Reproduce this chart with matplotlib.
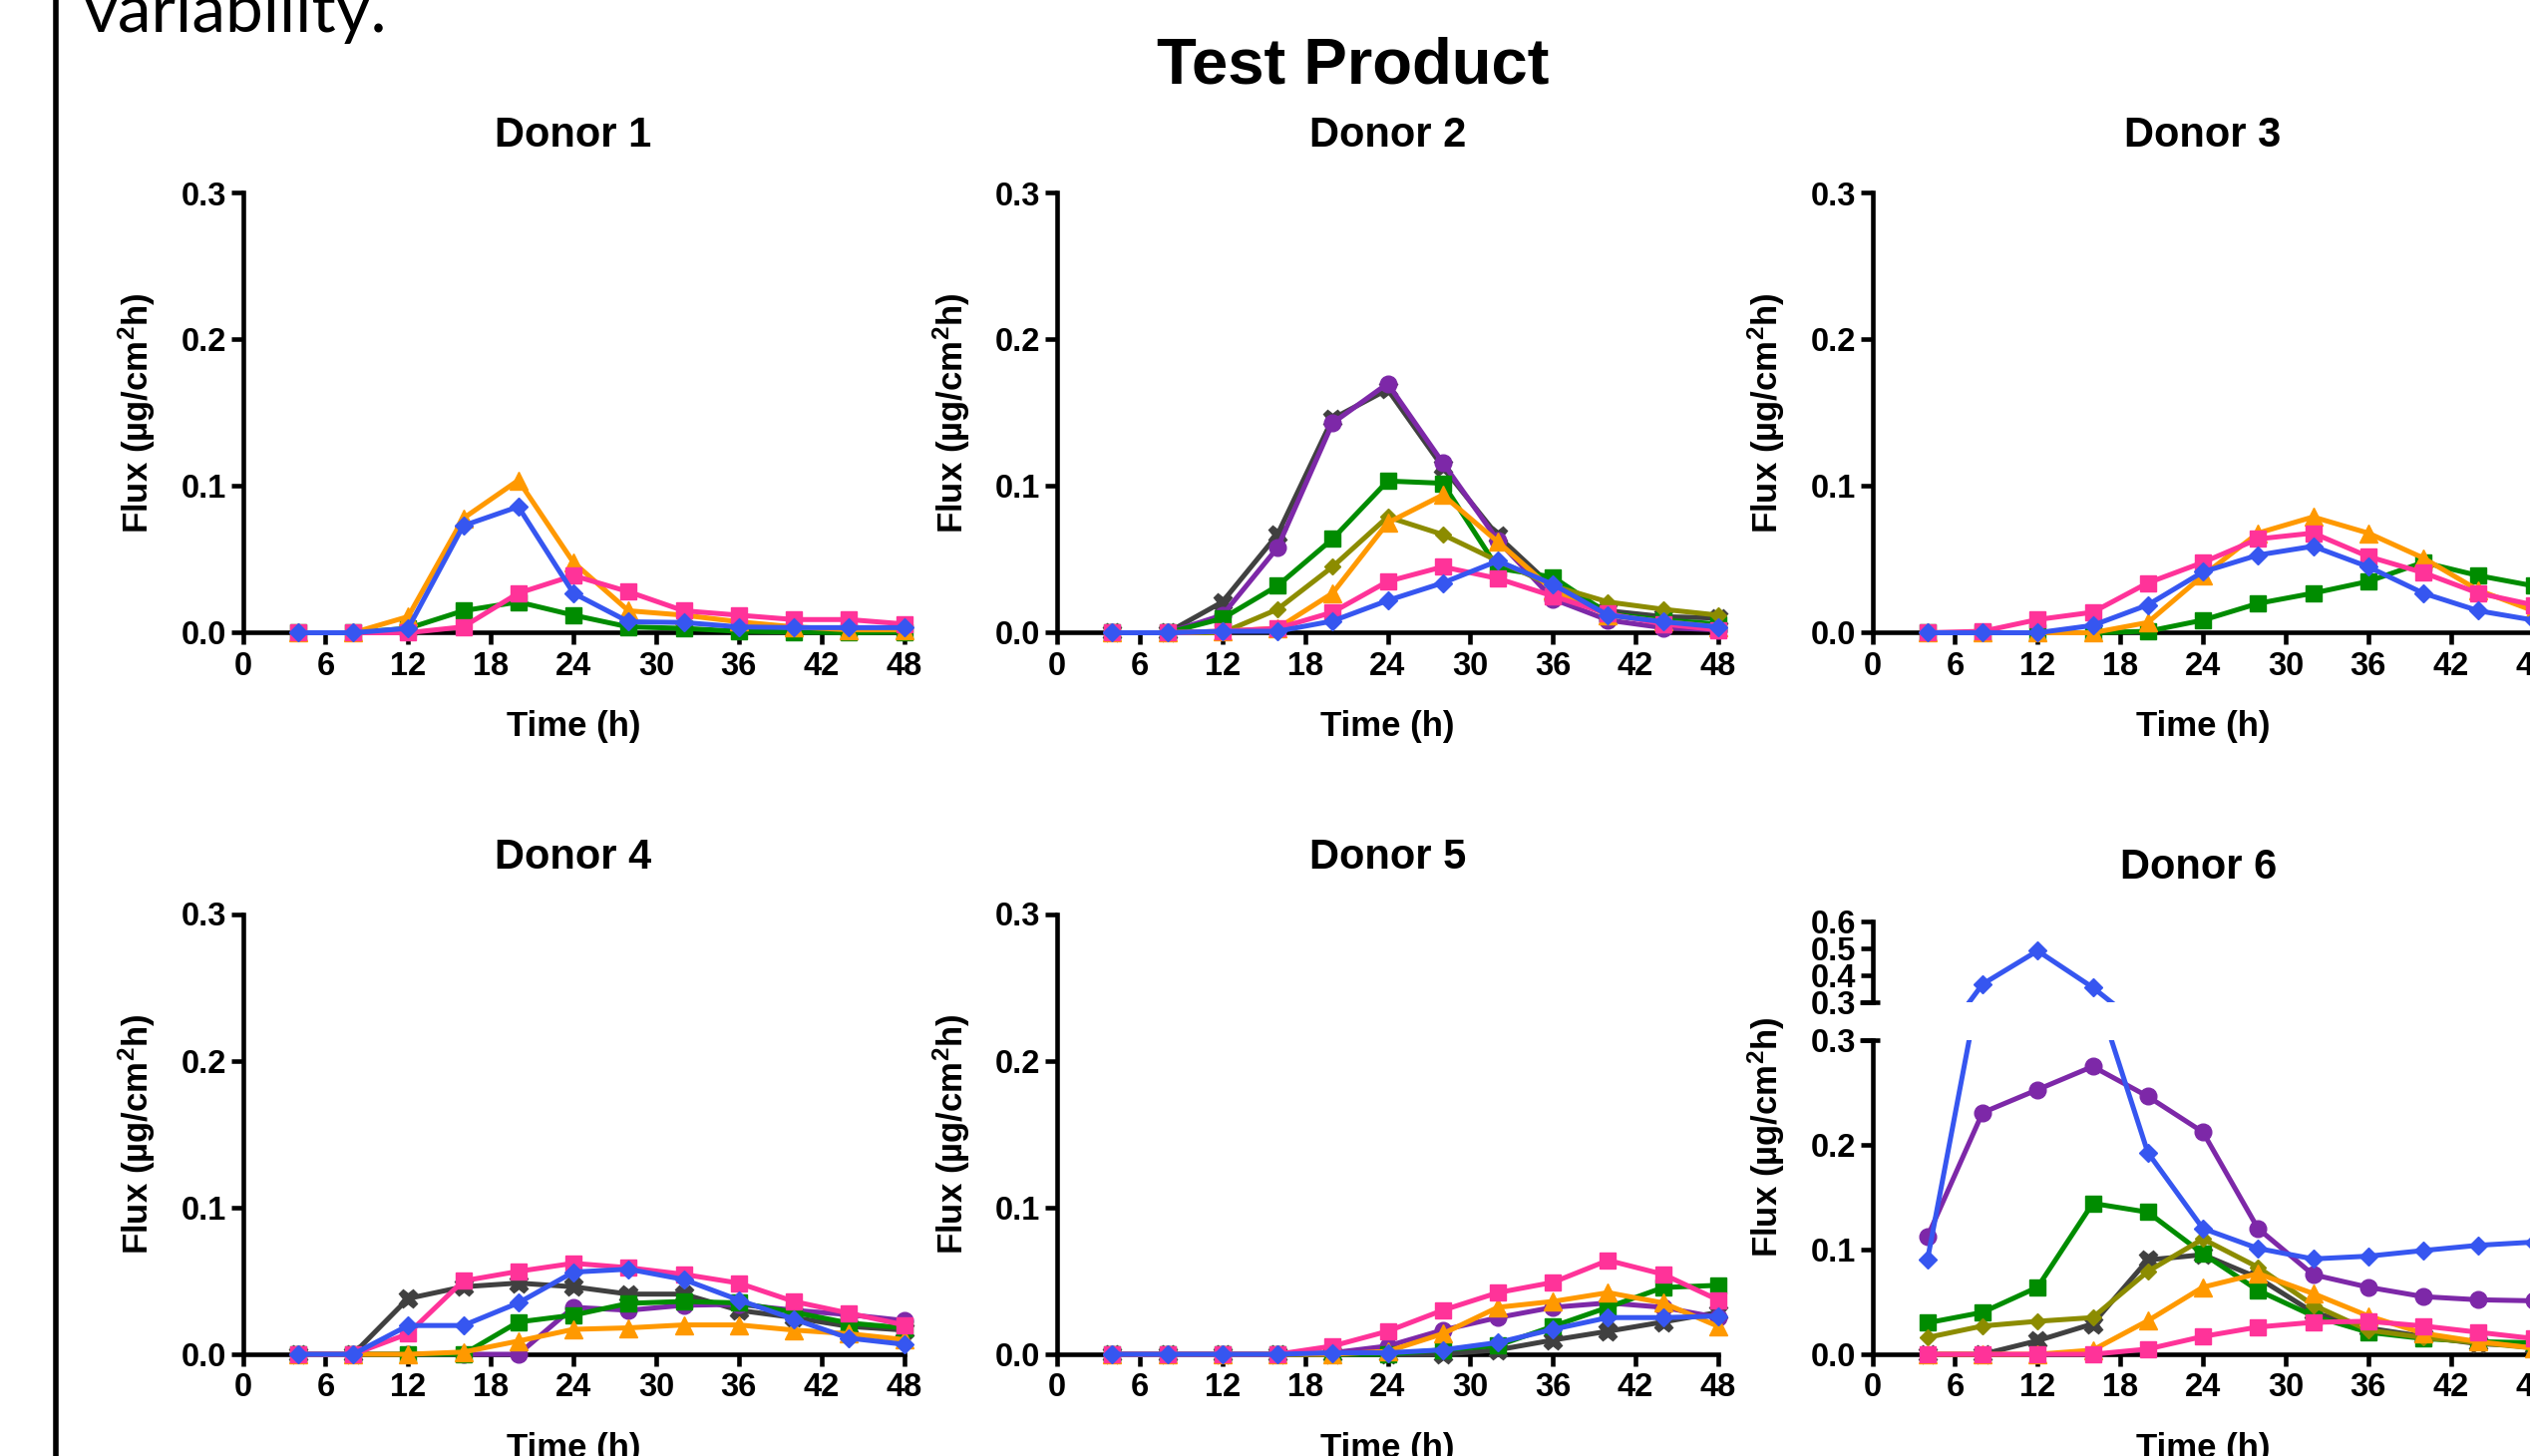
import matplotlib
matplotlib.use('Agg')
import matplotlib.pyplot as plt
from matplotlib.lines import Line2D
from matplotlib.transforms import Bbox, TransformedBbox
import numpy as np

plt.rcParams['font.family'] = ['Liberation Sans', 'DejaVu Sans']
plt.rcParams['font.weight'] = 'bold'
plt.rcParams['mathtext.fontset'] = 'custom'
plt.rcParams['mathtext.rm'] = 'Liberation Sans:bold'
plt.rcParams['mathtext.it'] = 'Liberation Sans:bold'
plt.rcParams['mathtext.bf'] = 'Liberation Sans:bold'

# ---------------- data ----------------
time_h = [4, 8, 12, 16, 20, 24, 28, 32, 36, 40, 44, 48]
x_ticks = [0, 6, 12, 18, 24, 30, 36, 42, 48]
y_ticks = [0.0, 0.1, 0.2, 0.3]
y_ticks_upper = [0.3, 0.4, 0.5, 0.6]

d1_green = [0, 0, 0.003, 0.015, 0.021, 0.012, 0.004, 0.003, 0.001, 0.0005, 0, 0.0005]
d1_orange = [0, 0, 0.011, 0.078, 0.104, 0.048, 0.015, 0.012, 0.0075, 0.004, 0.002, 0.002]
d1_pink = [0, 0, 0, 0.004, 0.027, 0.039, 0.028, 0.015, 0.012, 0.009, 0.009, 0.006]
d1_blue = [0, 0, 0.003, 0.073, 0.086, 0.027, 0.0075, 0.007, 0.004, 0.0035, 0.0035, 0.0035]

d2_gray = [0, 0, 0.021, 0.067, 0.146, 0.166, 0.113, 0.066, 0.031, 0.015, 0.011, 0.010]
d2_purple = [0, 0, 0.012, 0.058, 0.143, 0.170, 0.116, 0.063, 0.023, 0.0086, 0.0034, 0.002]
d2_green = [0, 0, 0.0097, 0.032, 0.064, 0.1035, 0.102, 0.044, 0.038, 0.013, 0.0086, 0.006]
d2_olive = [0, 0, 0, 0.016, 0.045, 0.079, 0.067, 0.049, 0.032, 0.021, 0.016, 0.012]
d2_orange = [0, 0, 0.001, 0.003, 0.027, 0.075, 0.094, 0.062, 0.029, 0.012, 0.0075, 0.004]
d2_pink = [0, 0, 0.001, 0.003, 0.014, 0.035, 0.045, 0.037, 0.025, 0.013, 0.006, 0.002]
d2_blue = [0, 0, 0.001, 0.001, 0.008, 0.022, 0.034, 0.049, 0.033, 0.012, 0.0075, 0.004]

d3_green = [0, 0, 0, 0, 0.001, 0.0086, 0.020, 0.027, 0.035, 0.048, 0.039, 0.032]
d3_orange = [0, 0, 0, 0, 0.007, 0.039, 0.068, 0.079, 0.068, 0.051, 0.029, 0.015]
d3_pink = [0, 0.001, 0.009, 0.014, 0.034, 0.048, 0.064, 0.068, 0.052, 0.041, 0.027, 0.019]
d3_blue = [0, 0, 0, 0.005, 0.019, 0.0415, 0.053, 0.059, 0.045, 0.027, 0.015, 0.0086]

d4_gray = [0, 0, 0.038, 0.046, 0.0485, 0.046, 0.041, 0.041, 0.030, 0.025, 0.019, 0.0165]
d4_purple = [0, 0, 0, 0, 0, 0.032, 0.030, 0.0334, 0.034, 0.030, 0.027, 0.023]
d4_green = [0, 0, 0, 0, 0.022, 0.0267, 0.0347, 0.036, 0.035, 0.0286, 0.0213, 0.018]
d4_orange = [0, 0, 0, 0.0015, 0.009, 0.017, 0.018, 0.020, 0.020, 0.0165, 0.014, 0.010]
d4_pink = [0, 0, 0.014, 0.050, 0.0565, 0.062, 0.059, 0.0545, 0.0485, 0.036, 0.028, 0.020]
d4_blue = [0, 0, 0.0196, 0.0196, 0.035, 0.056, 0.058, 0.051, 0.037, 0.024, 0.011, 0.0068]

d5_gray = [0, 0, 0, 0, 0, 0, 0, 0.003, 0.0097, 0.0157, 0.022, 0.0286]
d5_purple = [0, 0, 0, 0, 0.001, 0.0056, 0.0165, 0.025, 0.032, 0.035, 0.032, 0.025]
d5_green = [0, 0, 0, 0, 0, 0, 0.003, 0.006, 0.019, 0.032, 0.0455, 0.047]
d5_orange = [0, 0, 0, 0, 0, 0.002, 0.014, 0.032, 0.036, 0.042, 0.035, 0.019]
d5_pink = [0, 0, 0, 0, 0.0056, 0.0157, 0.030, 0.042, 0.049, 0.064, 0.0545, 0.037]
d5_blue = [0, 0, 0, 0, 0.001, 0.001, 0.003, 0.008, 0.017, 0.025, 0.025, 0.026]

d6_gray = [0, 0, 0.013, 0.029, 0.090, 0.095, 0.073, 0.040, 0.025, 0.017, 0.010, 0.008]
d6_purple = [0.112, 0.2305, 0.2525, 0.2746, 0.246, 0.212, 0.120, 0.076, 0.064, 0.055, 0.052, 0.051]
d6_green = [0.030, 0.040, 0.064, 0.144, 0.1356, 0.096, 0.061, 0.0366, 0.021, 0.015, 0.012, 0.011]
d6_olive = [0.016, 0.027, 0.0315, 0.035, 0.079, 0.110, 0.083, 0.047, 0.023, 0.016, 0.011, 0.006]
d6_orange = [0, 0, 0, 0.004, 0.032, 0.064, 0.077, 0.058, 0.0366, 0.020, 0.012, 0.006]
d6_pink = [0, 0, 0, 0, 0.005, 0.017, 0.026, 0.0305, 0.0315, 0.027, 0.021, 0.015]
d6_blue = [0.090, 0.367, 0.491, 0.355, 0.1925, 0.120, 0.101, 0.091, 0.0936, 0.099, 0.104, 0.107]

donors = {
    'Donor 1': {'green': d1_green, 'orange': d1_orange, 'pink': d1_pink, 'blue': d1_blue},
    'Donor 2': {'gray': d2_gray, 'purple': d2_purple, 'green': d2_green, 'olive': d2_olive,
                'orange': d2_orange, 'pink': d2_pink, 'blue': d2_blue},
    'Donor 3': {'green': d3_green, 'orange': d3_orange, 'pink': d3_pink, 'blue': d3_blue},
    'Donor 4': {'gray': d4_gray, 'purple': d4_purple, 'green': d4_green,
                'orange': d4_orange, 'pink': d4_pink, 'blue': d4_blue},
    'Donor 5': {'gray': d5_gray, 'purple': d5_purple, 'green': d5_green,
                'orange': d5_orange, 'pink': d5_pink, 'blue': d5_blue},
    'Donor 6': {'gray': d6_gray, 'purple': d6_purple, 'green': d6_green, 'olive': d6_olive,
                'orange': d6_orange, 'pink': d6_pink, 'blue': d6_blue},
}

# ---------------- styles ----------------
STYLE = {
    'gray':   dict(color='#404040', marker='X', ms=13),
    'purple': dict(color='#7D28A8', marker='o', ms=12),
    'green':  dict(color='#008C00', marker='s', ms=11),
    'olive':  dict(color='#8C8C00', marker='D', ms=8),
    'orange': dict(color='#FF9900', marker='^', ms=13),
    'pink':   dict(color='#FF3399', marker='s', ms=11),
    'blue':   dict(color='#3656F0', marker='D', ms=9),
}
ORDER = ['gray', 'purple', 'green', 'olive', 'orange', 'pink', 'blue']
LW = 3.6
SPW = 3.3

W, H = 2537, 1460
DPI = 100
fig = plt.figure(figsize=(W / DPI, H / DPI), dpi=DPI)


def px_axes(left, top, width, height):
    return fig.add_axes([left / W, 1 - (top + height) / H, width / W, height / H])


def style_axis(ax, ylim, yt, show_x=True):
    ax.set_xlim(0, 48)
    ax.set_ylim(*ylim)
    ax.patch.set_alpha(0)
    for s in ['top', 'right']:
        ax.spines[s].set_visible(False)
    ax.spines['left'].set_linewidth(SPW)
    ax.spines['bottom'].set_linewidth(SPW)
    ax.tick_params(axis='both', direction='out', length=8.6, width=SPW, labelsize=23.5)
    ax.tick_params(axis='y', pad=3.5)
    ax.tick_params(axis='x', pad=4.5)
    ax.set_yticks(yt)
    ax.set_yticklabels([f'{v:.1f}' for v in yt])
    if show_x:
        ax.set_xticks(x_ticks)
        ax.set_xticklabels([str(v) for v in x_ticks])
    else:
        ax.spines['bottom'].set_visible(False)
        ax.set_xticks([])


def draw_series(ax, data):
    for key in ORDER:
        if key not in data:
            continue
        st = STYLE[key]
        ax.plot(time_h, data[key], color=st['color'], lw=LW, marker=st['marker'],
                ms=st['ms'], mec=st['color'], mfc=st['color'], clip_on=False, zorder=3)


def fig_text(x, y, s, **kw):
    return fig.text(x / W, 1 - y / H, s, **kw)


AX_W = 663
ROW1_TOP, ROW1_H = 193.5, 441
ROW2_TOP, ROW2_H = 916.5, 441.5
COL_L = [243.5, 1060, 1877.5]

layout = {
    'Donor 1': (COL_L[0], 0), 'Donor 2': (COL_L[1], 0), 'Donor 3': (COL_L[2], 0),
    'Donor 4': (COL_L[0], 1), 'Donor 5': (COL_L[1], 1),
}

ylab = 'Flux (µg/cm$^{2}$h)'

for name, (left, row) in layout.items():
    top = ROW1_TOP if row == 0 else ROW2_TOP
    h = ROW1_H if row == 0 else ROW2_H
    ax = px_axes(left, top, AX_W, h)
    style_axis(ax, (0, 0.3), y_ticks)
    draw_series(ax, donors[name])
    cx = left + AX_W / 2
    fig_text(cx, 147 if row == 0 else 871, name, ha='center', va='baseline',
             fontsize=30, weight='bold')
    fig_text(cx, 738 if row == 0 else 1462, 'Time (h)', ha='center', va='baseline',
             fontsize=25, weight='bold')
    fig_text(left - 106, top + h / 2, ylab, rotation=90, ha='center', va='center',
             fontsize=25, weight='bold')

# ---------------- Donor 6 (broken axis) ----------------
left6 = COL_L[2]
low_top, low_bot = 1042.7, 1358
up_top, up_bot = 924, 1005
ax_lo = px_axes(left6, low_top, AX_W, low_bot - low_top)
ax_up = px_axes(left6, up_top, AX_W, up_bot - up_top)
style_axis(ax_lo, (0, 0.3), y_ticks)
style_axis(ax_up, (0.3, 0.6), y_ticks_upper, show_x=False)

data6 = donors['Donor 6']
for key in ORDER:
    st = STYLE[key]
    y = np.array(data6[key])
    t = np.array(time_h)
    for ax, lo, hi, cb in [(ax_lo, 0, 0.3, [[-0.1, -0.2], [1.1, 1.0]]),
                           (ax_up, 0.3, 0.6, [[-0.1, 0.0], [1.1, 1.5]])]:
        ln, = ax.plot(t, y, color=st['color'], lw=LW, zorder=3)
        ln.set_clip_box(TransformedBbox(Bbox(cb), ax.transAxes))
        m = (y >= lo) & (y <= hi)
        if m.any():
            ax.plot(t[m], y[m], ls='none', marker=st['marker'], ms=st['ms'],
                    color=st['color'], mec=st['color'], clip_on=False, zorder=3)

# break marks (ticks extend to the right at the break)
for yb in (low_top, up_bot):
    fig.add_artist(Line2D([(left6 - 12) / W, (left6 + 7) / W], [1 - yb / H] * 2,
                          transform=fig.transFigure, color='black', lw=SPW,
                          solid_capstyle='butt'))

cx6 = left6 + AX_W / 2
fig_text(cx6 - 4, 881, 'Donor 6', ha='center', va='baseline', fontsize=30, weight='bold')
fig_text(cx6, 1462, 'Time (h)', ha='center', va='baseline', fontsize=25, weight='bold')
fig_text(left6 - 106, 1140, ylab, rotation=90, ha='center', va='center',
         fontsize=25, weight='bold')

# ---------------- headline & slide decorations ----------------
fig_text(1357, 83, 'Test Product', ha='center', va='baseline', fontsize=47, weight='bold')

fig.add_artist(Line2D([56 / W, 56 / W], [0, 1], transform=fig.transFigure,
                      color='black', lw=4.0, solid_capstyle='butt'))

var_txt = fig_text(83, 32, 'variability.', ha='left', va='baseline', fontsize=50,
                   family=['Lato', 'DejaVu Sans'], weight='normal')
fig.canvas.draw()
bb = var_txt.get_window_extent(fig.canvas.get_renderer())
var_txt.set_fontsize(50 * 304 / bb.width)

fig.savefig('out.png', dpi=DPI)
